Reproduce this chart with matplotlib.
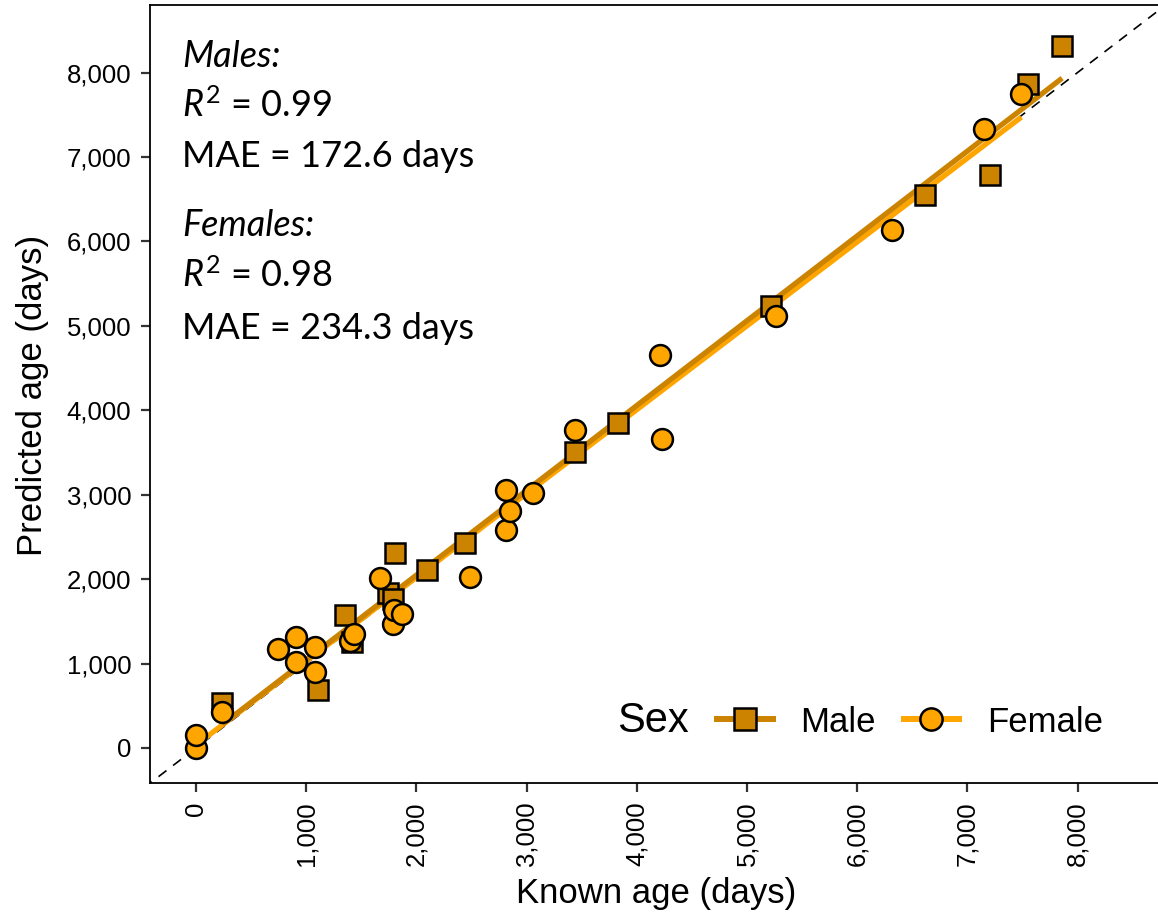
import numpy as np
import matplotlib
matplotlib.use("Agg")
import matplotlib.pyplot as plt
from matplotlib.lines import Line2D
from matplotlib.ticker import FuncFormatter

plt.rcParams['font.family'] = ['Liberation Sans', 'DejaVu Sans']
plt.rcParams['mathtext.fontset'] = 'custom'
plt.rcParams['mathtext.rm'] = 'Lato'
plt.rcParams['mathtext.it'] = 'Lato:italic'

# known vs predicted age (days)
male_known = [240, 1110, 1350, 1420, 1740, 1790, 1810, 2100, 2440, 3440, 3830,
              5220, 6620, 7210, 7550, 7860]
male_pred = [530, 690, 1570, 1250, 1840, 1760, 2310, 2110, 2430, 3510, 3850,
             5230, 6550, 6790, 7860, 8310]
female_known = [0, 0, 236, 744, 907, 907, 1080, 1080, 1400, 1430, 1670, 1790,
                1800, 1870, 2490, 2810, 2810, 2850, 3060, 3440, 4210, 4230,
                5260, 6320, 7150, 7490]
female_pred = [0, 150, 430, 1175, 1320, 1020, 1200, 900, 1270, 1350, 2015, 1470,
               1640, 1590, 2030, 3060, 2585, 2810, 3020, 3770, 4660, 3660,
               5120, 6140, 7330, 7750]

male_col = '#CC8400'
female_col = '#FFA500'

W, H = 1158, 917
fig = plt.figure(figsize=(W / 100, H / 100), dpi=100)
ax = fig.add_axes([150 / W, 1 - 783 / H, 1 - 150 / W, (783 - 5) / H])

ax.set_xlim(-417, 8730)
ax.set_ylim(-415, 8800)

# 1:1 reference line
ax.plot([-1000, 10000], [-1000, 10000], color='black', lw=1.2,
        dashes=(6, 5), zorder=1)

# linear fits per sex
for kx, py, col in [(female_known, female_pred, female_col),
                    (male_known, male_pred, male_col)]:
    kx = np.array(kx)
    py = np.array(py)
    b, a = np.polyfit(kx, py, 1)
    xs = np.array([kx.min(), kx.max()])
    ax.plot(xs, a + b * xs, color=col, lw=3.8, solid_capstyle='butt', zorder=2)

ax.plot(male_known, male_pred, ls='none', marker='s', ms=14, mfc=male_col,
        mec='black', mew=1.8, zorder=3)
ax.plot(female_known, female_pred, ls='none', marker='o', ms=15, mfc=female_col,
        mec='black', mew=1.8, zorder=4)

ticks = np.arange(0, 8001, 1000)
ax.set_xticks(ticks)
ax.set_yticks(ticks)
fmt = FuncFormatter(lambda v, p: f'{int(v):,}')
ax.xaxis.set_major_formatter(fmt)
ax.yaxis.set_major_formatter(fmt)
ax.tick_params(axis='both', length=6.5, width=1.6, color='#333333',
               labelsize=18.5, labelcolor='black', pad=7)
ax.tick_params(axis='x', labelrotation=90)

for s in ['left', 'bottom', 'top']:
    ax.spines[s].set_linewidth(1.3)
    ax.spines[s].set_color('black')
ax.spines['right'].set_visible(False)

fig.text(656 / W, 1 - 893 / H, 'Known age (days)', fontsize=25,
         ha='center', va='center')
fig.text(33 / W, 1 - 395 / H, 'Predicted age (days)', fontsize=25,
         ha='center', va='center', rotation=90)

# stats text
txt = dict(fontsize=26, family='Lato', va='baseline', ha='left')
fig.text(182 / W, 1 - 67 / H, 'Males:', style='italic', **txt)
fig.text(182 / W, 1 - 117 / H, r'$R^2$ = 0.99', **txt)
fig.text(182 / W, 1 - 167 / H, 'MAE = 172.6 days', **txt)
fig.text(182 / W, 1 - 236 / H, 'Females:', style='italic', **txt)
fig.text(182 / W, 1 - 287 / H, r'$R^2$ = 0.98', **txt)
fig.text(182 / W, 1 - 339 / H, 'MAE = 234.3 days', **txt)

# legend
fig.text(617 / W, 1 - 721 / H, 'Sex', fontsize=30, va='center', ha='left')
handles = [
    Line2D([], [], color=male_col, lw=4.3, marker='s', ms=16, mfc=male_col,
           mec='black', mew=1.8),
    Line2D([], [], color=female_col, lw=4.3, marker='o', ms=16, mfc=female_col,
           mec='black', mew=1.8),
]
ax.legend(handles, ['Male', 'Female'], ncol=2, loc='center left',
          bbox_to_anchor=(717 / W, 1 - 722 / H), bbox_transform=fig.transFigure,
          frameon=False, borderpad=0, borderaxespad=0, fontsize=25,
          handlelength=1.6, handletextpad=0.8, columnspacing=0.8)

fig.savefig('out.png', dpi=100)
